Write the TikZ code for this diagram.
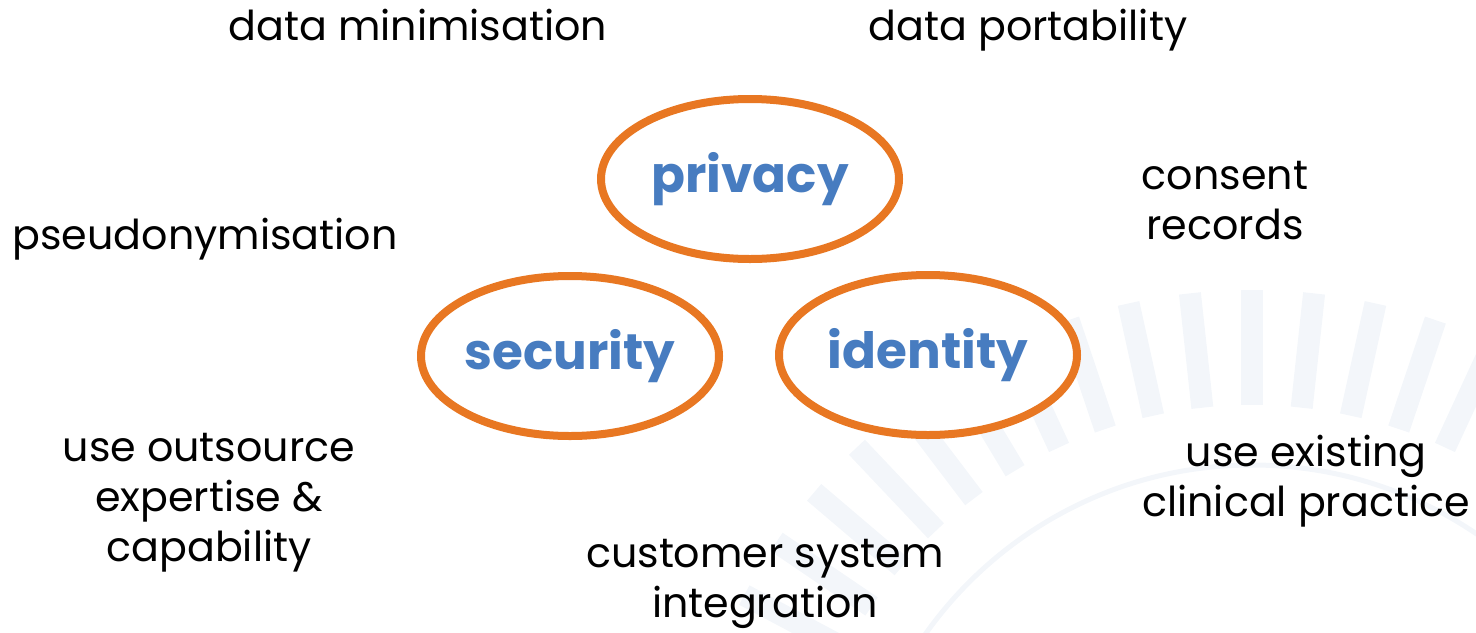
\documentclass[tikz,border=0pt]{standalone}
\usepackage{fontspec}
\setmainfont{Poppins}
\usetikzlibrary{shapes.geometric}
\definecolor{rayblue}{RGB}{243,246,250}
\definecolor{topicorange}{RGB}{232,119,34}
\definecolor{topicblue}{RGB}{71,124,192}

\begin{document}
\begin{tikzpicture}[x=0.5pt, y=0.5pt,
  ray/.style={rayblue, line width=11pt},
  bubble/.style={ellipse, draw=topicorange, line width=4pt, fill=white,
    minimum width=149pt, minimum height=80pt, inner sep=0pt,
    text=topicblue, font=\fontsize{25}{30}\selectfont\bfseries},
  note/.style={align=center, font=\fontsize{20.6}{25}\selectfont}]
  \useasboundingbox (0,0) rectangle (1476,-632);
  \clip (0,0) rectangle (1476,-632);
  % faint background rays
  \coordinate (hub) at (1252,-865);
  \foreach \k in {-5,...,10}
    \draw[ray] (hub) ++({90+6.2*\k}:460) -- ++({90+6.2*\k}:115);
  \draw[rayblue, line width=2.5pt] (hub) circle[radius=400];
  % topics
  \node[bubble] (priv) at (750,-179) {privacy};
  \node[bubble] (sec) at (570,-356) {security};
  \node[bubble] (iden) at (928,-355) {identity};
  % notes
  \node[note, anchor=base] (dmin) at (418,-40) {data minimisation};
  \node[note, anchor=base] (dport) at (1028,-40) {data portability};
  \node[note] (cons) at (1225,-201) {consent\\records};
  \node[note, anchor=base] (pseudo) at (205,-249) {pseudonymisation};
  \node[note] (outs) at (209,-503) {use outsource\\expertise \&\\capability};
  \node[note] (cust) at (765,-584) {customer system\\integration};
  \node[note] (clin) at (1306,-481) {use existing\\clinical practice};
\end{tikzpicture}
\end{document}
